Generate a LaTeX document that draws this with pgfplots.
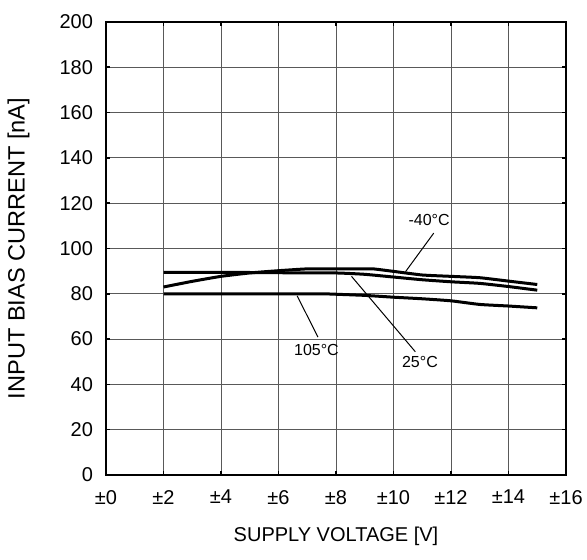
\documentclass[border=0pt]{standalone}
\usepackage{pgfplots}
\pgfplotsset{compat=1.18}
\usepackage{fontspec}
\setmainfont{Liberation Sans}
\begin{document}
\begin{tikzpicture}
\useasboundingbox (-53pt,-42.5pt) rectangle (240.5pt,237.5pt);
\begin{axis}[
  scale only axis, width=230pt, height=226.5pt,
  xmin=0, xmax=16, ymin=0, ymax=200,
  xtick={0,2,...,16}, ytick={0,20,...,200},
  xticklabels={±0,±2,±4,±6,±8,±10,±12,±14,±16},
  /pgf/number format/assume math mode=true,
  tick label style={font=\fontsize{10}{12}\selectfont},
  xticklabel style={yshift=-4pt},
  yticklabel style={xshift=-3pt},
  tick align=inside, major tick length=2pt,
  every tick/.style={black, line width=0.8pt},
  grid=major, grid style={line width=0.5pt, color=black!65},
  axis line style={line width=1.4pt},
  xlabel={SUPPLY VOLTAGE [V]},
  ylabel={INPUT BIAS CURRENT [nA]},
  every axis x label/.style={at={(axis description cs:0.5,-0.1347)},anchor=center,font=\fontsize{10}{12}\selectfont},
  every axis y label/.style={at={(axis description cs:-0.19,0.5)},rotate=90,anchor=center,font=\fontsize{11.8}{14}\selectfont},
  clip=false,
]
% -40 C
\addplot[black, line width=1.5pt, smooth, tension=0.3] coordinates {
(2,83) (3,85.5) (4,87.7) (5,89.2) (6,90.2) (7,91) (8,91) (9,91) (9.3,91) (10,89.9) (11,88.3) (12,87.7) (13,87.1) (14,85.6) (15,84.1)};
% 25 C
\addplot[black, line width=1.5pt, smooth, tension=0.3] coordinates {
(2,89.5) (4,89.5) (6,89.3) (8,89.2) (9,88.6) (10,87.4) (11,86.2) (12,85.3) (13,84.6) (14,83.2) (15,81.6)};
% 105 C
\addplot[black, line width=1.5pt, smooth, tension=0.3] coordinates {
(2,80) (4,80) (6,80) (7.5,80) (8,79.8) (9,79.3) (10,78.5) (11,77.8) (12,76.9) (13,75.3) (14,74.6) (15,73.8)};
% leaders
\addplot[black, line width=0.5pt] coordinates {(11.4,106.8) (10.42,89.8)};
\addplot[black, line width=0.5pt] coordinates {(10.76,54.4) (8.54,87.7)};
\addplot[black, line width=0.5pt] coordinates {(7.37,60.9) (6.65,79.1)};
\node[font=\fontsize{8}{10}\selectfont] at (axis cs:11.24,112.6) {-40°C};
\node[font=\fontsize{8}{10}\selectfont] at (axis cs:10.92,49.8) {25°C};
\node[font=\fontsize{8}{10}\selectfont] at (axis cs:7.32,55.4) {105°C};
\end{axis}
\end{tikzpicture}
\end{document}
